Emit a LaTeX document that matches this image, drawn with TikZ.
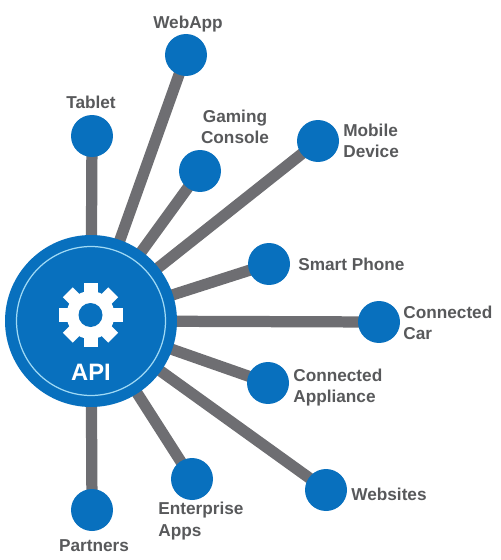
\documentclass[tikz,border=0pt]{standalone}
\usepackage{fontspec}
\setmainfont{Liberation Sans}
\usetikzlibrary{backgrounds}
\definecolor{cblue}{RGB}{8,112,190}
\definecolor{cgray}{RGB}{110,110,114}
\definecolor{ctext}{RGB}{88,89,91}
\definecolor{cring}{RGB}{160,218,245}
\tikzset{
  hubnet/.style={x=0.02cm,y=-0.02cm,font=\bfseries\fontsize{9.8}{12}\selectfont},
  client/.style={circle,fill=cblue,minimum size=0.84cm,inner sep=0pt},
  spoke/.style={cgray,line width=6.4pt},
  tag/.style={text=ctext,align=center,inner sep=0pt}
}

\begin{document}
\begin{tikzpicture}[hubnet]
    \useasboundingbox (0,0) rectangle (500,560);
    \node[circle,fill=cblue,minimum size=3.44cm,inner sep=0pt] (api) at (91,321) {};
    \node[circle,draw=cring,line width=0.7pt,minimum size=2.98cm,inner sep=0pt] (ring) at (91,321) {};
    \node[client] (webapp) at (186,55) {};
    \node[client] (tablet) at (92,136) {};
    \node[client] (gaming) at (200,171) {};
    \node[client] (mobile) at (318,141) {};
    \node[client] (smart) at (269,264) {};
    \node[client] (car) at (379,322) {};
    \node[client] (appliance) at (268,383) {};
    \node[client] (websites) at (326,490) {};
    \node[client] (enterprise) at (192,479) {};
    \node[client] (partners) at (92,510) {};
    \begin{scope}[on background layer]
      \foreach \c in {webapp,tablet,gaming,mobile,smart,car,appliance,websites,enterprise,partners}
        \draw[spoke] (api.center) -- (\c.center);
    \end{scope}
    % gear
    \fill[white] (90.5,315) circle (24);
    \foreach \a in {0,45,...,315}
      \fill[white,rotate around={\a:(90.5,315)}] (83.5,315) rectangle (97.5,283);
    \fill[cblue] (90.5,315) circle (12);
    \node[text=white,font=\bfseries\fontsize{13.5}{15}\selectfont] (apitag) at (91,372) {API};
    \node[tag] (webapptag) at (188,24) {WebApp};
    \node[tag] (tablettag) at (91,102) {Tablet};
    \node[tag] (gamingtag) at (235,127) {Gaming\\Console};
    \node[tag,align=left,anchor=west] (mobiletag) at (343,141) {Mobile\\Device};
    \node[tag,anchor=west] (smarttag) at (298,264) {Smart Phone};
    \node[tag,align=left,anchor=west] (cartag) at (403,323) {Connected\\Car};
    \node[tag,align=left,anchor=west] (appliancetag) at (293,388) {Connected\\Appliance};
    \node[tag,anchor=west] (websitestag) at (351,494) {Websites};
    \node[tag,align=left,anchor=west] (enterprisetag) at (158,521) {Enterprise\\Apps};
    \node[tag] (partnerstag) at (94,546) {Partners};
\end{tikzpicture}
\end{document}
